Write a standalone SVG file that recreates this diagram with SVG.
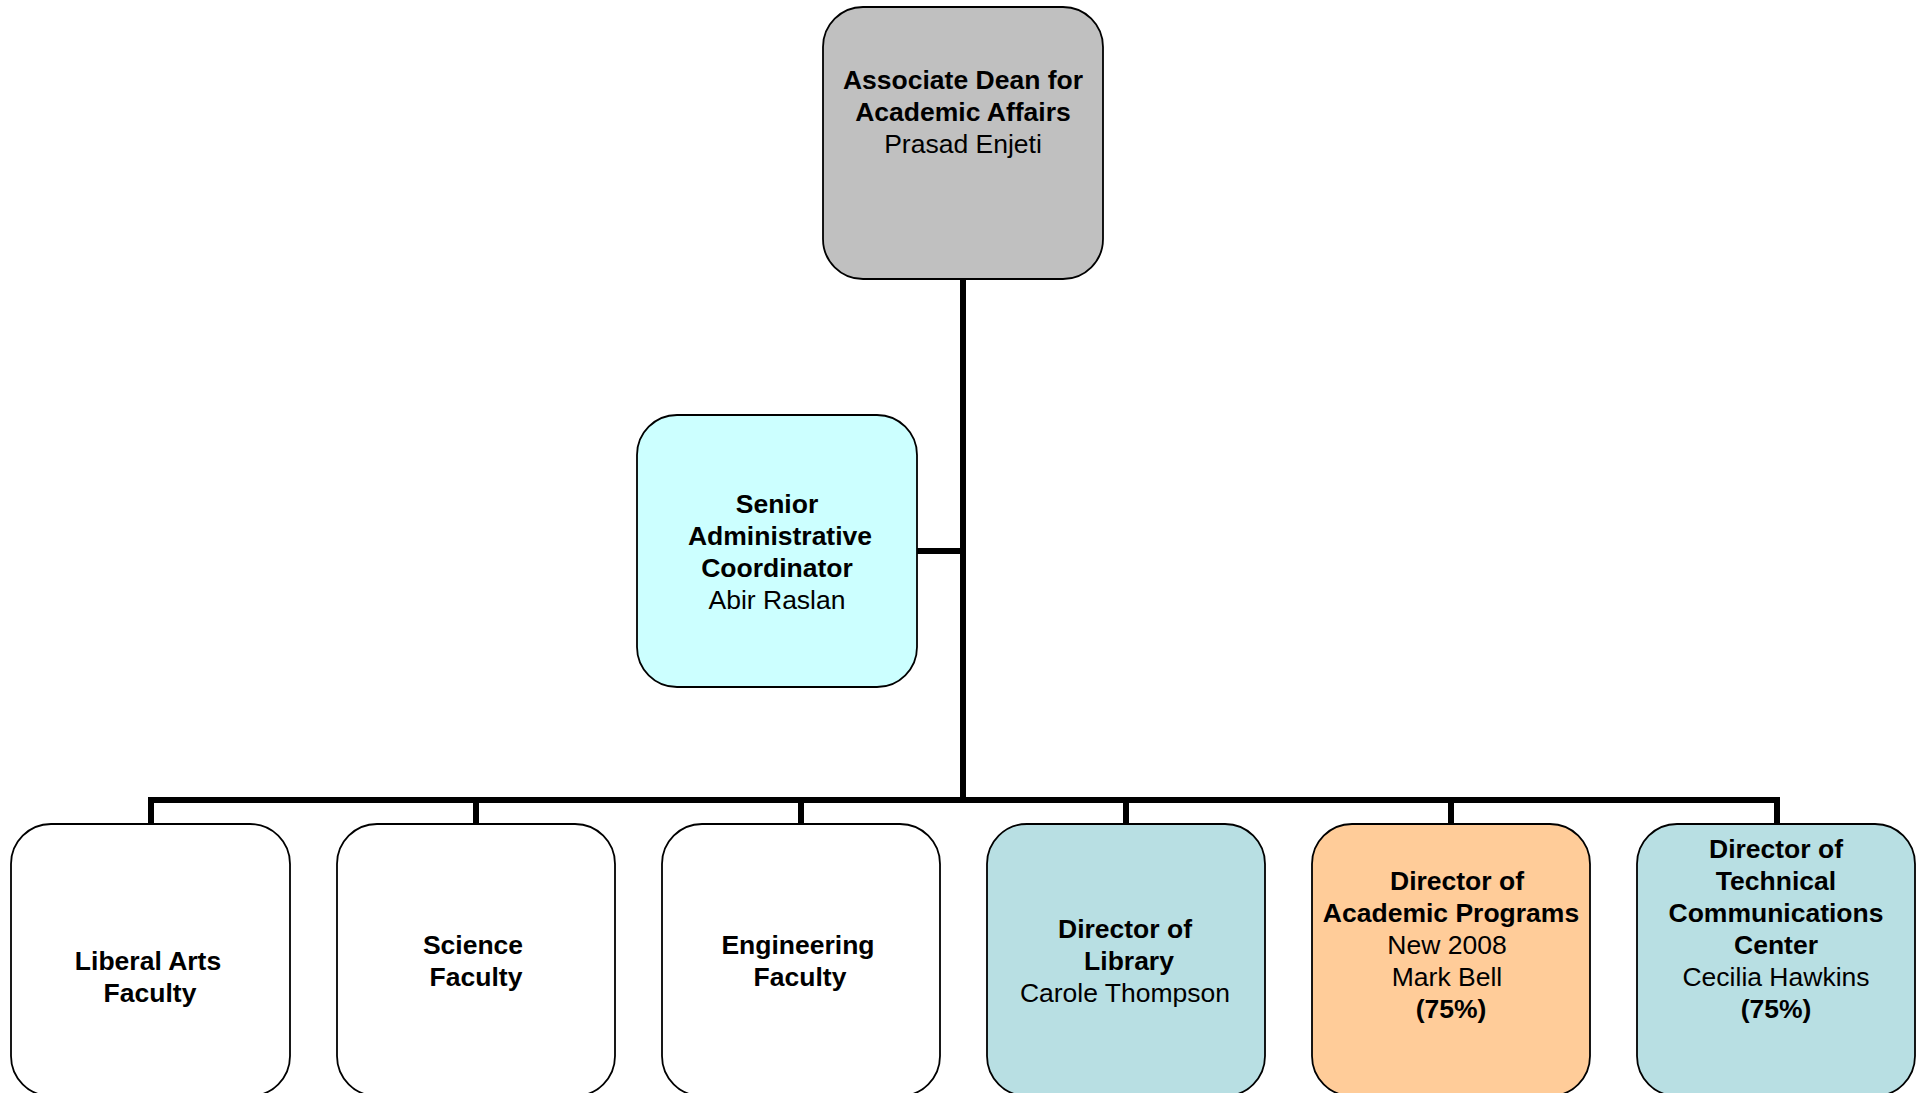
<svg xmlns="http://www.w3.org/2000/svg" width="1926" height="1093" viewBox="0 0 1926 1093">
<style>
  .box { stroke: #000; stroke-width: 1.8; }
  .t { font-family: "Liberation Sans", Arial, sans-serif; font-size: 26.5px; text-anchor: middle; fill: #000; }
  .b { font-weight: bold; }
  .conn { stroke: #000; stroke-width: 6; fill: none; stroke-linecap: butt; stroke-linejoin: miter; }
</style>
<rect width="1926" height="1093" fill="#fff"/>
<g id="connectors">
  <line class="conn" x1="963" y1="279" x2="963" y2="800"/>
  <line class="conn" x1="917" y1="551" x2="963" y2="551"/>
  <polyline class="conn" points="151,824 151,800 1777,800 1777,824"/>
  <line class="conn" x1="476" y1="800" x2="476" y2="824"/>
  <line class="conn" x1="801" y1="800" x2="801" y2="824"/>
  <line class="conn" x1="1126" y1="800" x2="1126" y2="824"/>
  <line class="conn" x1="1451" y1="800" x2="1451" y2="824"/>
</g>
<g id="dean">
  <rect class="box" x="823" y="7" width="280" height="272" rx="40" fill="#C0C0C0"/>
  <text class="t b" x="963" y="89">Associate Dean for</text>
  <text class="t b" x="963" y="121">Academic Affairs</text>
  <text class="t" x="963" y="153">Prasad Enjeti</text>
</g>
<g id="senior">
  <rect class="box" x="637" y="415" width="280" height="272" rx="40" fill="#CCFFFF"/>
  <text class="t b" x="777" y="513">Senior</text>
  <text class="t b" x="780" y="545">Administrative</text>
  <text class="t b" x="777" y="577">Coordinator</text>
  <text class="t" x="777" y="609">Abir Raslan</text>
</g>
<g id="liberal">
  <rect class="box" x="11" y="824" width="279" height="272" rx="40" fill="#FFFFFF"/>
  <text class="t b" x="148" y="970">Liberal Arts</text>
  <text class="t b" x="150" y="1002">Faculty</text>
</g>
<g id="science">
  <rect class="box" x="337" y="824" width="278" height="272" rx="40" fill="#FFFFFF"/>
  <text class="t b" x="473" y="954">Science</text>
  <text class="t b" x="476" y="986">Faculty</text>
</g>
<g id="engineering">
  <rect class="box" x="662" y="824" width="278" height="272" rx="40" fill="#FFFFFF"/>
  <text class="t b" x="798" y="954">Engineering</text>
  <text class="t b" x="800" y="986">Faculty</text>
</g>
<g id="library">
  <rect class="box" x="987" y="824" width="278" height="272" rx="40" fill="#B8DFE3"/>
  <text class="t b" x="1125" y="938">Director of</text>
  <text class="t b" x="1129" y="970">Library</text>
  <text class="t" x="1125" y="1002">Carole Thompson</text>
</g>
<g id="academic">
  <rect class="box" x="1312" y="824" width="278" height="272" rx="40" fill="#FFCC99"/>
  <text class="t b" x="1457" y="890">Director of</text>
  <text class="t b" x="1451" y="922">Academic Programs</text>
  <text class="t" x="1447" y="954">New 2008</text>
  <text class="t" x="1447" y="986">Mark Bell</text>
  <text class="t b" x="1451" y="1018">(75%)</text>
</g>
<g id="technical">
  <rect class="box" x="1637" y="824" width="278" height="272" rx="40" fill="#B8DFE3"/>
  <text class="t b" x="1776" y="858">Director of</text>
  <text class="t b" x="1776" y="890">Technical</text>
  <text class="t b" x="1776" y="922">Communications</text>
  <text class="t b" x="1776" y="954">Center</text>
  <text class="t" x="1776" y="986">Cecilia Hawkins</text>
  <text class="t b" x="1776" y="1018">(75%)</text>
</g>
</svg>
